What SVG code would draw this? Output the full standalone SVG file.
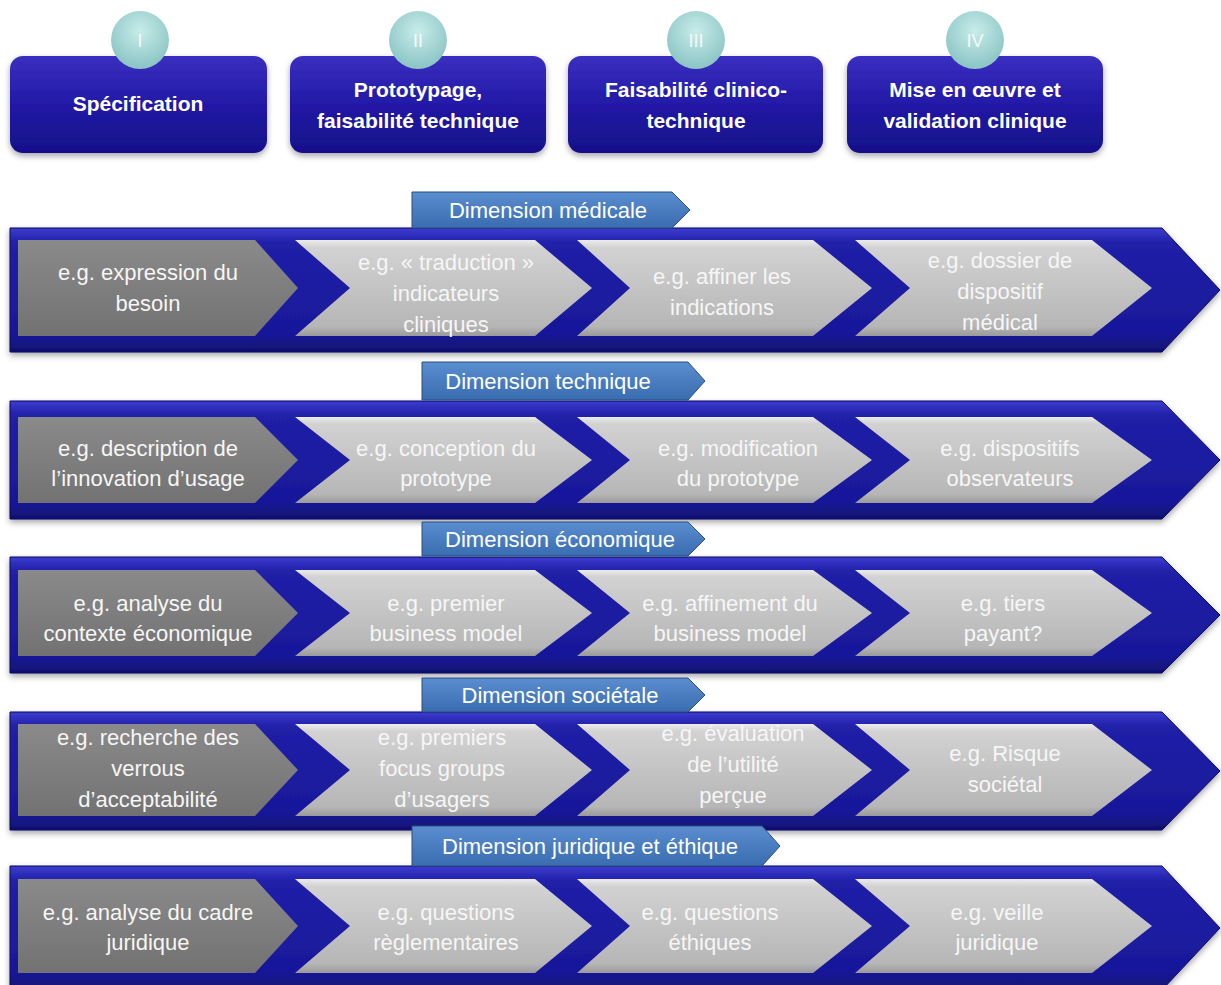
<svg xmlns="http://www.w3.org/2000/svg" width="1221" height="985" viewBox="0 0 1221 985">
<defs>
<linearGradient id="gBox" x1="0" y1="0" x2="0" y2="1">
<stop offset="0" stop-color="#3a2fc0"/><stop offset="0.5" stop-color="#2219a6"/><stop offset="1" stop-color="#15108a"/>
</linearGradient>
<radialGradient id="gCirc" cx="0.5" cy="0.35" r="0.6">
<stop offset="0" stop-color="#c8ecea"/><stop offset="1" stop-color="#8ec7c6"/>
</radialGradient>
<linearGradient id="gBand" x1="0" y1="0" x2="0" y2="1">
<stop offset="0" stop-color="#3c3cd0"/><stop offset="0.12" stop-color="#2020a8"/><stop offset="0.85" stop-color="#18189a"/><stop offset="1" stop-color="#101070"/>
</linearGradient>
<linearGradient id="gLight" x1="0" y1="0" x2="0" y2="1">
<stop offset="0" stop-color="#ececec"/><stop offset="0.08" stop-color="#d2d2d2"/><stop offset="0.9" stop-color="#b6b6b6"/><stop offset="1" stop-color="#9a9a9a"/>
</linearGradient>
<linearGradient id="gDark" x1="0" y1="0" x2="0" y2="1">
<stop offset="0" stop-color="#8a8a8a"/><stop offset="1" stop-color="#727272"/>
</linearGradient>
<linearGradient id="gTab" x1="0" y1="0" x2="0" y2="1">
<stop offset="0" stop-color="#5a8ed0"/><stop offset="1" stop-color="#3a6cb0"/>
</linearGradient>
<filter id="sh" x="-5%" y="-10%" width="110%" height="130%">
<feDropShadow dx="0" dy="3" stdDeviation="3" flood-color="#000" flood-opacity="0.35"/>
</filter>
</defs>
<style>
.box{fill:url(#gBox);filter:url(#sh)}
.circ{fill:url(#gCirc)}
.band{fill:url(#gBand);stroke:#0c0c60;stroke-width:1;filter:url(#sh)}
.light{fill:url(#gLight)}
.dark{fill:url(#gDark)}
.tab{fill:url(#gTab);stroke:#2a4f80;stroke-width:1}
.bt{font-family:"Liberation Sans",Arial,sans-serif;font-weight:bold;font-size:21px;fill:#fff;text-anchor:middle}
.ct{font-family:"Liberation Sans",Arial,sans-serif;font-size:18px;fill:#f4f8f8;text-anchor:middle}
.t{font-family:"Liberation Sans",Arial,sans-serif;font-size:22px;fill:#f6f6f6;text-anchor:middle}
.tt{font-family:"Liberation Sans",Arial,sans-serif;font-size:22px;fill:#fff;text-anchor:middle}
</style>
<rect width="1221" height="985" fill="#fff"/>

<!-- Phase boxes -->
<g id="phase1"><rect class="box" x="10" y="56" width="257" height="97" rx="13"/><circle class="circ" cx="140" cy="40" r="29"/><text class="ct" x="140" y="47">I</text><text class="bt" x="138" y="111">Spécification</text></g>
<g id="phase2"><rect class="box" x="290" y="56" width="256" height="97" rx="13"/><circle class="circ" cx="418" cy="40" r="29"/><text class="ct" x="418" y="47">II</text><text class="bt" x="418" y="97">Prototypage,</text><text class="bt" x="418" y="128">faisabilité technique</text></g>
<g id="phase3"><rect class="box" x="568" y="56" width="255" height="97" rx="13"/><circle class="circ" cx="696" cy="40" r="29"/><text class="ct" x="696" y="47">III</text><text class="bt" x="696" y="97">Faisabilité clinico-</text><text class="bt" x="696" y="128">technique</text></g>
<g id="phase4"><rect class="box" x="847" y="56" width="256" height="97" rx="13"/><circle class="circ" cx="975" cy="40" r="29"/><text class="ct" x="975" y="47">IV</text><text class="bt" x="975" y="97">Mise en œuvre et</text><text class="bt" x="975" y="128">validation clinique</text></g>

<!-- Row 1 -->
<g id="row1">
<polygon class="band" points="10,228 1162,228 1220,290 1162,352 10,352"/>
<polygon class="dark" points="18,240 255,240 298,288 255,336 18,336"/>
<polygon class="light" points="295,240 535,240 592,288 535,336 295,336 350,288"/>
<polygon class="light" points="577,240 813,240 872,288 813,336 577,336 630,288"/>
<polygon class="light" points="855,240 1092,240 1152,288 1092,336 855,336 910,288"/>
<polygon class="tab" points="412,192 672,192 690,210 672,228 412,228"/>
<text class="tt" x="548" y="218">Dimension médicale</text>
<text class="t" x="148" y="280">e.g. expression du</text><text class="t" x="148" y="311">besoin</text>
<text class="t" x="446" y="270">e.g. « traduction »</text><text class="t" x="446" y="301">indicateurs</text><text class="t" x="446" y="332">cliniques</text>
<text class="t" x="722" y="284">e.g. affiner les</text><text class="t" x="722" y="315">indications</text>
<text class="t" x="1000" y="268">e.g. dossier de</text><text class="t" x="1000" y="299">dispositif</text><text class="t" x="1000" y="330">médical</text>
</g>

<!-- Row 2 -->
<g id="row2">
<polygon class="band" points="10,401 1162,401 1220,460 1162,519 10,519"/>
<polygon class="dark" points="18,417 255,417 298,460 255,503 18,503"/>
<polygon class="light" points="295,417 535,417 592,460 535,503 295,503 350,460"/>
<polygon class="light" points="577,417 813,417 872,460 813,503 577,503 630,460"/>
<polygon class="light" points="855,417 1092,417 1152,460 1092,503 855,503 910,460"/>
<polygon class="tab" points="422,362 688,362 705,381 688,400 422,400"/>
<text class="tt" x="548" y="389">Dimension technique</text>
<text class="t" x="148" y="456">e.g. description de</text><text class="t" x="148" y="486">l’innovation d’usage</text>
<text class="t" x="446" y="456">e.g. conception du</text><text class="t" x="446" y="486">prototype</text>
<text class="t" x="738" y="456">e.g. modification</text><text class="t" x="738" y="486">du prototype</text>
<text class="t" x="1010" y="456">e.g. dispositifs</text><text class="t" x="1010" y="486">observateurs</text>
</g>

<!-- Row 3 -->
<g id="row3">
<polygon class="band" points="10,557 1162,557 1220,615 1162,673 10,673"/>
<polygon class="dark" points="18,570 255,570 298,613 255,656 18,656"/>
<polygon class="light" points="295,570 535,570 592,613 535,656 295,656 350,613"/>
<polygon class="light" points="577,570 813,570 872,613 813,656 577,656 630,613"/>
<polygon class="light" points="855,570 1092,570 1152,613 1092,656 855,656 910,613"/>
<polygon class="tab" points="422,522 688,522 705,539 688,556 422,556"/>
<text class="tt" x="560" y="547">Dimension économique</text>
<text class="t" x="148" y="611">e.g. analyse du</text><text class="t" x="148" y="641">contexte économique</text>
<text class="t" x="446" y="611">e.g. premier</text><text class="t" x="446" y="641">business model</text>
<text class="t" x="730" y="611">e.g. affinement du</text><text class="t" x="730" y="641">business model</text>
<text class="t" x="1003" y="611">e.g. tiers</text><text class="t" x="1003" y="641">payant?</text>
</g>

<!-- Row 4 -->
<g id="row4">
<polygon class="band" points="10,712 1162,712 1220,771 1162,830 10,830"/>
<polygon class="dark" points="18,724 255,724 298,770 255,816 18,816"/>
<polygon class="light" points="295,724 535,724 592,770 535,816 295,816 350,770"/>
<polygon class="light" points="577,724 813,724 872,770 813,816 577,816 630,770"/>
<polygon class="light" points="855,724 1092,724 1152,770 1092,816 855,816 910,770"/>
<polygon class="tab" points="422,678 688,678 705,695 688,712 422,712"/>
<text class="tt" x="560" y="703">Dimension sociétale</text>
<text class="t" x="148" y="745">e.g. recherche des</text><text class="t" x="148" y="776">verrous</text><text class="t" x="148" y="807">d’acceptabilité</text>
<text class="t" x="442" y="745">e.g. premiers</text><text class="t" x="442" y="776">focus groups</text><text class="t" x="442" y="807">d’usagers</text>
<text class="t" x="733" y="741">e.g. évaluation</text><text class="t" x="733" y="772">de l’utilité</text><text class="t" x="733" y="803">perçue</text>
<text class="t" x="1005" y="761">e.g. Risque</text><text class="t" x="1005" y="792">sociétal</text>
</g>

<!-- Row 5 -->
<g id="row5">
<polygon class="band" points="10,866 1162,866 1220,928 1162,990 10,990"/>
<polygon class="dark" points="18,879 255,879 298,926 255,973 18,973"/>
<polygon class="light" points="295,879 535,879 592,926 535,973 295,973 350,926"/>
<polygon class="light" points="577,879 813,879 872,926 813,973 577,973 630,926"/>
<polygon class="light" points="855,879 1092,879 1152,926 1092,973 855,973 910,926"/>
<polygon class="tab" points="412,826 762,826 780,846 762,866 412,866"/>
<text class="tt" x="590" y="854">Dimension juridique et éthique</text>
<text class="t" x="148" y="920">e.g. analyse du cadre</text><text class="t" x="148" y="950">juridique</text>
<text class="t" x="446" y="920">e.g. questions</text><text class="t" x="446" y="950">règlementaires</text>
<text class="t" x="710" y="920">e.g. questions</text><text class="t" x="710" y="950">éthiques</text>
<text class="t" x="997" y="920">e.g. veille</text><text class="t" x="997" y="950">juridique</text>
</g>
<g id="connectors"/>
</svg>
